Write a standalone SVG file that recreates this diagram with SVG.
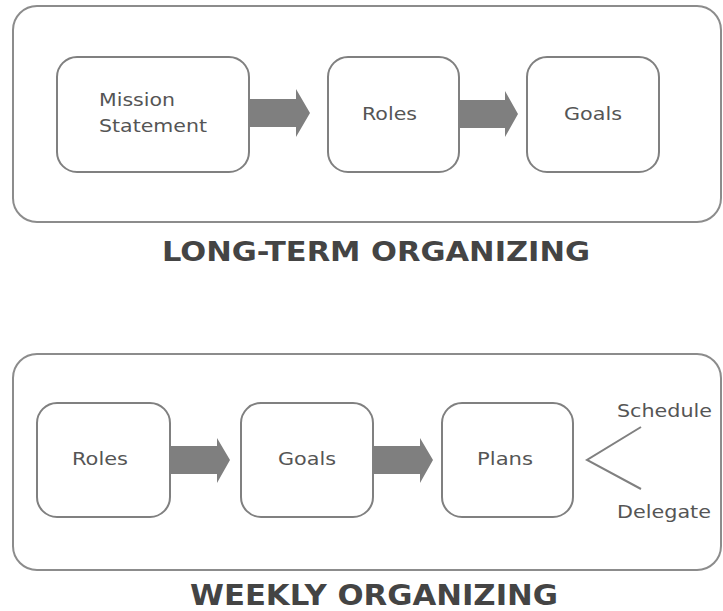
<svg xmlns="http://www.w3.org/2000/svg" width="723" height="611" viewBox="0 0 723 611">
<style>
.frame{fill:#fff;stroke:#8c8c8c;stroke-width:2}
.box{fill:#fff;stroke:#808080;stroke-width:2}
.lbl{font-family:"DejaVu Sans","Liberation Sans",Arial,sans-serif;font-size:18px;fill:#555}
.title{font-family:"DejaVu Sans","Liberation Sans",Arial,sans-serif;font-weight:bold;fill:#444}
.arrow{fill:#7f7f7f}
.branch{fill:none;stroke:#808080;stroke-width:2}
</style>
<rect width="723" height="611" fill="#fff"/>
<g id="long-term">
  <rect class="frame" x="13" y="6" width="708" height="216" rx="24"/>
</g>
<g id="mission">
  <rect class="box" x="57" y="57" width="192" height="115" rx="20"/>
  <text class="lbl" x="99" y="106" textLength="76" lengthAdjust="spacingAndGlyphs">Mission</text>
  <text class="lbl" x="99" y="132" textLength="108" lengthAdjust="spacingAndGlyphs">Statement</text>
</g>
<g id="roles-top">
  <rect class="box" x="328" y="57" width="131" height="115" rx="20"/>
  <text class="lbl" x="362" y="120" textLength="55" lengthAdjust="spacingAndGlyphs">Roles</text>
</g>
<g id="goals-top">
  <rect class="box" x="527" y="57" width="132" height="115" rx="20"/>
  <text class="lbl" x="564" y="120" textLength="58" lengthAdjust="spacingAndGlyphs">Goals</text>
</g>
<text id="title-long" class="title" x="162" y="261" font-size="27" textLength="428" lengthAdjust="spacingAndGlyphs">LONG-TERM ORGANIZING</text>
<g id="weekly">
  <rect class="frame" x="13" y="354" width="708" height="216" rx="24"/>
</g>
<g id="roles-bottom">
  <rect class="box" x="37" y="403" width="133" height="114" rx="20"/>
  <text class="lbl" x="72" y="465" textLength="56" lengthAdjust="spacingAndGlyphs">Roles</text>
</g>
<g id="goals-bottom">
  <rect class="box" x="241" y="403" width="132" height="114" rx="20"/>
  <text class="lbl" x="278" y="465" textLength="58" lengthAdjust="spacingAndGlyphs">Goals</text>
</g>
<g id="plans">
  <rect class="box" x="442" y="403" width="131" height="114" rx="20"/>
  <text class="lbl" x="477" y="465" textLength="56" lengthAdjust="spacingAndGlyphs">Plans</text>
</g>
<g id="schedule">
  <text class="lbl" x="617" y="417" textLength="95" lengthAdjust="spacingAndGlyphs">Schedule</text>
</g>
<g id="delegate">
  <text class="lbl" x="617" y="518" textLength="94" lengthAdjust="spacingAndGlyphs">Delegate</text>
</g>
<text id="title-weekly" class="title" x="190" y="605" font-size="28" textLength="368" lengthAdjust="spacingAndGlyphs">WEEKLY ORGANIZING</text>
<g id="connectors">
  <polygon class="arrow" points="249,99 296,99 296,89 310,113 296,137 296,127 249,127"/>
  <polygon class="arrow" points="459,100 505,100 505,91 518,114 505,137 505,128 459,128"/>
  <polygon class="arrow" points="170,446 217,446 217,438 230,460 217,483 217,474 170,474"/>
  <polygon class="arrow" points="373,446 420,446 420,438 433,460 420,483 420,474 373,474"/>
  <polyline class="branch" points="641,427 587,460 641,489"/>
</g>
</svg>
